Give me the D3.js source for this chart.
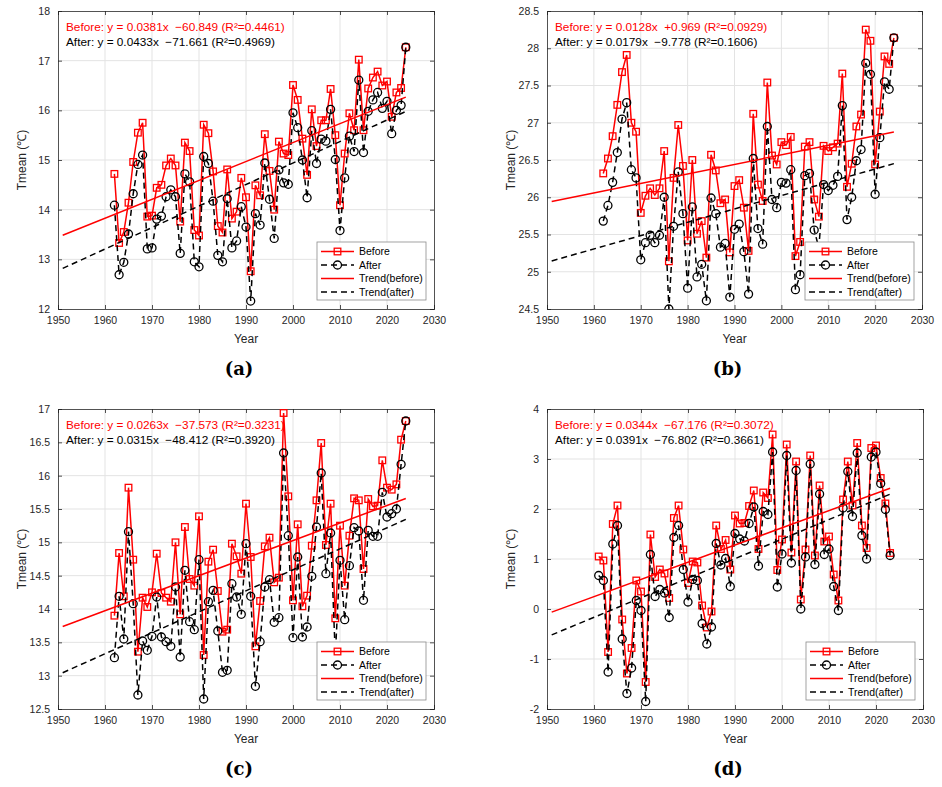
<!DOCTYPE html>
<html>
<head>
<meta charset="utf-8">
<script src="https://cdn.jsdelivr.net/npm/d3@7"></script>
<style>
  body { margin: 0; background: #fff; }
  text { font-family: "Liberation Sans", Arial, sans-serif; }
</style>
</head>
<body>
<div id="chart"></div>
<script>
const width = 942, height = 787;

// years for each panel
const yearsA = d3.range(1962, 2025);
const yearsB = d3.range(1962, 2025);
const yearsC = d3.range(1962, 2025);
const yearsD = d3.range(1961, 2024);

// values
const beforeA = [14.72,13.33,13.55,14.14,14.96,15.55,15.75,13.86,13.88,14.44,
  14.50,14.89,15.03,14.89,13.76,15.35,15.18,13.59,13.48,15.71,
  15.54,14.77,13.67,13.54,14.81,13.82,13.96,14.64,14.25,12.76,
  14.49,14.29,15.52,14.78,14.00,15.37,15.13,15.10,16.51,16.21,
  15.43,14.70,16.02,15.28,15.80,15.80,16.43,15.50,14.09,15.13,
  15.94,15.60,17.02,15.60,16.44,16.66,16.78,16.50,16.58,15.87,
  16.36,16.45,17.27];
const afterA = [14.09,12.69,12.94,13.51,14.32,14.91,15.10,13.21,13.23,13.81,
  13.87,14.26,14.40,14.26,13.12,14.72,14.56,12.95,12.85,15.07,
  14.93,14.17,13.08,12.95,14.22,13.23,13.37,14.06,13.65,12.16,
  13.92,13.69,14.94,14.21,13.42,14.80,14.54,14.51,15.95,15.65,
  15.00,14.24,15.59,14.93,15.42,15.38,16.02,15.01,13.58,14.64,
  15.48,15.17,16.61,15.15,15.98,16.21,16.36,16.04,16.18,15.53,
  16.00,16.10,17.27];

const beforeB = [26.32,26.52,26.82,27.24,27.68,27.91,27.00,26.88,25.79,26.02,
  26.12,26.03,26.12,26.62,25.14,26.26,26.97,26.42,25.42,26.50,
  25.51,25.68,25.19,26.57,26.36,25.92,25.97,25.26,26.15,26.23,
  25.86,25.28,27.12,26.17,25.95,27.54,26.56,26.44,26.74,26.70,
  26.81,25.21,25.40,26.68,26.74,25.97,25.74,26.69,26.62,26.67,
  26.72,27.66,26.14,26.45,26.95,27.11,28.25,28.10,26.44,27.15,
  27.89,27.79,28.14];
const afterB = [25.68,25.89,26.20,26.60,27.05,27.27,26.37,26.26,25.16,25.39,
  25.49,25.39,25.49,26.00,24.50,25.61,26.34,25.78,24.78,25.87,
  24.93,25.10,24.61,25.99,25.78,25.33,25.38,24.66,25.57,25.64,
  25.27,24.70,26.52,25.58,25.37,26.95,25.97,25.86,26.20,26.19,
  26.37,24.76,24.96,26.29,26.32,25.56,25.32,26.17,26.09,26.16,
  26.28,27.23,25.70,26.00,26.49,26.64,27.80,27.65,26.04,26.80,
  27.55,27.45,28.14];

const beforeC = [13.90,14.84,14.19,15.82,14.74,13.36,14.17,14.03,14.25,14.83,
  14.24,14.17,14.11,15.00,13.92,15.23,14.45,14.35,15.39,13.31,
  14.71,14.89,14.27,13.66,13.69,14.98,14.79,14.53,15.58,14.78,
  13.44,14.12,14.94,15.07,14.40,14.47,16.94,15.69,14.13,15.27,
  14.04,14.20,14.95,15.63,16.49,14.96,15.58,13.86,15.25,14.35,
  15.10,15.66,15.63,14.60,15.65,15.54,15.55,16.23,15.82,15.79,
  15.87,16.54,16.82];
const afterC = [13.27,14.19,13.55,15.16,14.08,12.71,13.52,13.38,13.59,14.18,
  13.58,13.51,13.44,14.33,13.28,14.58,13.81,13.69,14.74,12.65,
  14.11,14.28,13.67,13.05,13.08,14.38,14.18,13.92,14.98,14.19,
  12.84,13.51,14.33,14.44,13.80,13.87,16.34,15.10,13.57,14.78,
  13.58,13.73,14.49,15.23,16.04,14.53,15.14,13.30,14.73,13.84,
  14.65,15.22,15.17,14.13,15.18,15.09,15.09,15.75,15.38,15.43,
  15.50,16.17,16.82];

const beforeD = [1.05,0.97,-0.86,1.70,2.07,-0.21,-1.29,-0.78,0.57,0.35,
  -1.46,1.49,0.64,0.79,0.71,0.22,1.82,2.07,1.19,0.52,
  0.95,0.93,0.07,-0.37,-0.05,1.67,1.20,1.38,0.79,1.87,
  1.71,1.72,2.06,2.37,1.20,2.33,2.22,3.49,0.78,1.39,
  3.29,1.13,2.95,0.19,1.19,3.07,1.07,2.47,1.35,1.45,
  0.69,0.17,2.19,2.95,2.07,3.32,1.67,1.22,3.22,3.27,
  2.62,2.11,1.12];
const afterD = [0.67,0.57,-1.26,1.30,1.67,-0.60,-1.69,-1.18,0.17,-0.03,
  -1.85,1.09,0.25,0.39,0.32,-0.17,1.43,1.67,0.79,0.14,
  0.59,0.57,-0.29,-0.70,-0.36,1.31,0.88,1.01,0.45,1.51,
  1.40,1.36,1.71,2.04,0.86,1.95,1.89,3.14,0.44,1.10,
  3.07,0.92,2.77,0.00,1.04,2.90,0.89,2.30,1.09,1.20,
  0.45,-0.03,2.02,2.75,1.85,3.12,1.47,1.00,3.04,3.14,
  2.51,1.99,1.07];

// fitted trend coefficients, as printed on the chart
const slopes = [[0.0381, 0.0433], [0.0128, 0.0179], [0.0263, 0.0315], [0.0344, 0.0391]];
const intercepts = [[-60.849, -71.661], [0.969, -9.778], [-37.573, -48.412], [-67.176, -76.802]];
const equations = [
  ["Before: y = 0.0381x  \u221260.849 (R\u00b2=0.4461)", "After: y = 0.0433x  \u221271.661 (R\u00b2=0.4969)"],
  ["Before: y = 0.0128x  +0.969 (R\u00b2=0.0929)", "After: y = 0.0179x  \u22129.778 (R\u00b2=0.1606)"],
  ["Before: y = 0.0263x  \u221237.573 (R\u00b2=0.3231)", "After: y = 0.0315x  \u221248.412 (R\u00b2=0.3920)"],
  ["Before: y = 0.0344x  \u221267.176 (R\u00b2=0.3072)", "After: y = 0.0391x  \u221276.802 (R\u00b2=0.3661)"]
];

const xTicks = d3.range(1950, 2031, 10);
const yTicksA = d3.range(12, 18.01, 1);
const yTicksB = d3.range(24.5, 28.51, 0.5);
const yTicksC = d3.range(12.5, 17.01, 0.5);
const yTicksD = d3.range(-2, 4.01, 1);

const legendLabels = ["Before", "After", "Trend(before)", "Trend(after)"];
const letters = ["(a)", "(b)", "(c)", "(d)"];

const panels = [
  {years: yearsA, before: beforeA, after: afterA, yDomain: [12, 18], yTicks: yTicksA,
   box: {left: 58, top: 11, w: 376, h: 298}},
  {years: yearsB, before: beforeB, after: afterB, yDomain: [24.5, 28.5], yTicks: yTicksB,
   box: {left: 547, top: 11, w: 375, h: 298}},
  {years: yearsC, before: beforeC, after: afterC, yDomain: [12.5, 17], yTicks: yTicksC,
   box: {left: 58, top: 409, w: 376, h: 300}},
  {years: yearsD, before: beforeD, after: afterD, yDomain: [-2, 4], yTicks: yTicksD,
   box: {left: 547, top: 409, w: 376, h: 300}}
];

const red = "#ff0000";
const axisColor = "#262626";
const gridColor = "#e3e3e3";
const dash = "6,4";

const svg = d3.select("#chart").append("svg")
  .attr("width", width).attr("height", height)
  .style("background", "#fff");

panels.forEach((p, i) => {
  const {left, top, w, h} = p.box;
  const x = d3.scaleLinear().domain([1950, 2030]).range([left, left + w]);
  const y = d3.scaleLinear().domain(p.yDomain).range([top + h, top]);
  const g = svg.append("g");

  g.append("clipPath").attr("id", "clip" + i)
    .append("rect").attr("x", left).attr("y", top).attr("width", w).attr("height", h);

  // grid
  g.append("g").selectAll("line").data(xTicks.slice(1, -1)).join("line")
    .attr("x1", d => x(d)).attr("x2", d => x(d))
    .attr("y1", top).attr("y2", top + h)
    .attr("stroke", gridColor).attr("stroke-width", 1);
  g.append("g").selectAll("line").data(p.yTicks.slice(1, -1)).join("line")
    .attr("x1", left).attr("x2", left + w)
    .attr("y1", d => y(d)).attr("y2", d => y(d))
    .attr("stroke", gridColor).attr("stroke-width", 1);

  // axes with inward ticks, mirrored on top/right
  const fmt = d => String(+d.toFixed(2));
  g.append("g").attr("transform", `translate(0,${top + h})`)
    .call(d3.axisBottom(x).tickValues(xTicks).tickSize(-4).tickPadding(8).tickFormat(fmt));
  g.append("g").attr("transform", `translate(0,${top})`)
    .call(d3.axisTop(x).tickValues(xTicks).tickSize(-4).tickFormat(""));
  g.append("g").attr("transform", `translate(${left},0)`)
    .call(d3.axisLeft(y).tickValues(p.yTicks).tickSize(-4).tickPadding(8).tickFormat(fmt));
  g.append("g").attr("transform", `translate(${left + w},0)`)
    .call(d3.axisRight(y).tickValues(p.yTicks).tickSize(-4).tickFormat(""));
  g.selectAll(".domain, .tick line").attr("stroke", axisColor).attr("stroke-width", 0.8);
  g.selectAll(".tick text").attr("fill", axisColor)
    .style("font-family", '"Liberation Sans", Arial, sans-serif').style("font-size", "10.5px");

  const plot = g.append("g").attr("clip-path", `url(#clip${i})`);
  const line = d3.line().x(d => x(d[0])).y(d => y(d[1]));
  const beforePts = p.years.map((yr, k) => [yr, p.before[k]]);
  const afterPts = p.years.map((yr, k) => [yr, p.after[k]]);

  // Before
  plot.append("path").datum(beforePts).attr("d", line)
    .attr("fill", "none").attr("stroke", red).attr("stroke-width", 1.5);
  plot.append("g").selectAll("rect").data(beforePts).join("rect")
    .attr("x", d => x(d[0]) - 3.3).attr("y", d => y(d[1]) - 3.3)
    .attr("width", 6.6).attr("height", 6.6)
    .attr("fill", "none").attr("stroke", red).attr("stroke-width", 1.3);

  // After
  plot.append("path").datum(afterPts).attr("d", line)
    .attr("fill", "none").attr("stroke", "#000").attr("stroke-width", 1.5)
    .attr("stroke-dasharray", dash);
  plot.append("g").selectAll("circle").data(afterPts).join("circle")
    .attr("cx", d => x(d[0])).attr("cy", d => y(d[1])).attr("r", 4)
    .attr("fill", "none").attr("stroke", "#000").attr("stroke-width", 1.3);

  // trend lines
  const x0 = 1951, x1 = p.years[p.years.length - 1];
  [0, 1].forEach(j => {
    const f = v => slopes[i][j] * v + intercepts[i][j];
    plot.append("line")
      .attr("x1", x(x0)).attr("y1", y(f(x0)))
      .attr("x2", x(x1)).attr("y2", y(f(x1)))
      .attr("stroke", j ? "#000" : red).attr("stroke-width", 1.5)
      .attr("stroke-dasharray", j ? dash : null);
  });

  // equation text
  equations[i].forEach((t, j) => {
    g.append("text")
      .attr("x", left + 8).attr("y", top + 20 + j * 15)
      .attr("fill", j ? "#000" : red)
      .style("font-size", "11.8px").style("white-space", "pre")
      .attr("xml:space", "preserve")
      .text(t);
  });

  // legend
  const lw = 109, lh = 58;
  const lx = left + w - 8 - lw, ly = top + h - 9 - lh;
  const lg = g.append("g").attr("transform", `translate(${lx},${ly})`);
  lg.append("rect").attr("width", lw).attr("height", lh)
    .attr("fill", "#fff").attr("stroke", "#8c8c8c").attr("stroke-width", 0.8);
  legendLabels.forEach((lab, k) => {
    const yy = 9.5 + k * 13.5;
    const isRed = k % 2 === 0;
    lg.append("line").attr("x1", 4).attr("x2", 37).attr("y1", yy).attr("y2", yy)
      .attr("stroke", isRed ? red : "#000").attr("stroke-width", 1.5)
      .attr("stroke-dasharray", isRed ? null : dash);
    if (k === 0) {
      lg.append("rect").attr("x", 20.5 - 3.3).attr("y", yy - 3.3).attr("width", 6.6).attr("height", 6.6)
        .attr("fill", "none").attr("stroke", red).attr("stroke-width", 1.3);
    }
    if (k === 1) {
      lg.append("circle").attr("cx", 20.5).attr("cy", yy).attr("r", 4)
        .attr("fill", "none").attr("stroke", "#000").attr("stroke-width", 1.3);
    }
    lg.append("text").attr("x", 42).attr("y", yy + 3.8)
      .attr("fill", "#000").style("font-size", "10.5px").text(lab);
  });

  // axis labels
  g.append("text")
    .attr("x", left + w / 2).attr("y", top + h + 34)
    .attr("text-anchor", "middle").attr("fill", axisColor)
    .style("font-size", "12px").text("Year");
  g.append("text")
    .attr("transform", `translate(${left - 32},${top + h / 2}) rotate(-90)`)
    .attr("text-anchor", "middle").attr("fill", axisColor)
    .style("font-size", "12px").text("Tmean (\u2103)");

  // panel letter
  g.append("text")
    .attr("x", left + w / 2 - 7).attr("y", top + h + 66)
    .attr("text-anchor", "middle").attr("fill", "#000")
    .style("font-family", '"DejaVu Serif", "Liberation Serif", serif')
    .style("font-weight", "bold").style("font-size", "18px")
    .text(letters[i]);
});
</script>
</body>
</html>
